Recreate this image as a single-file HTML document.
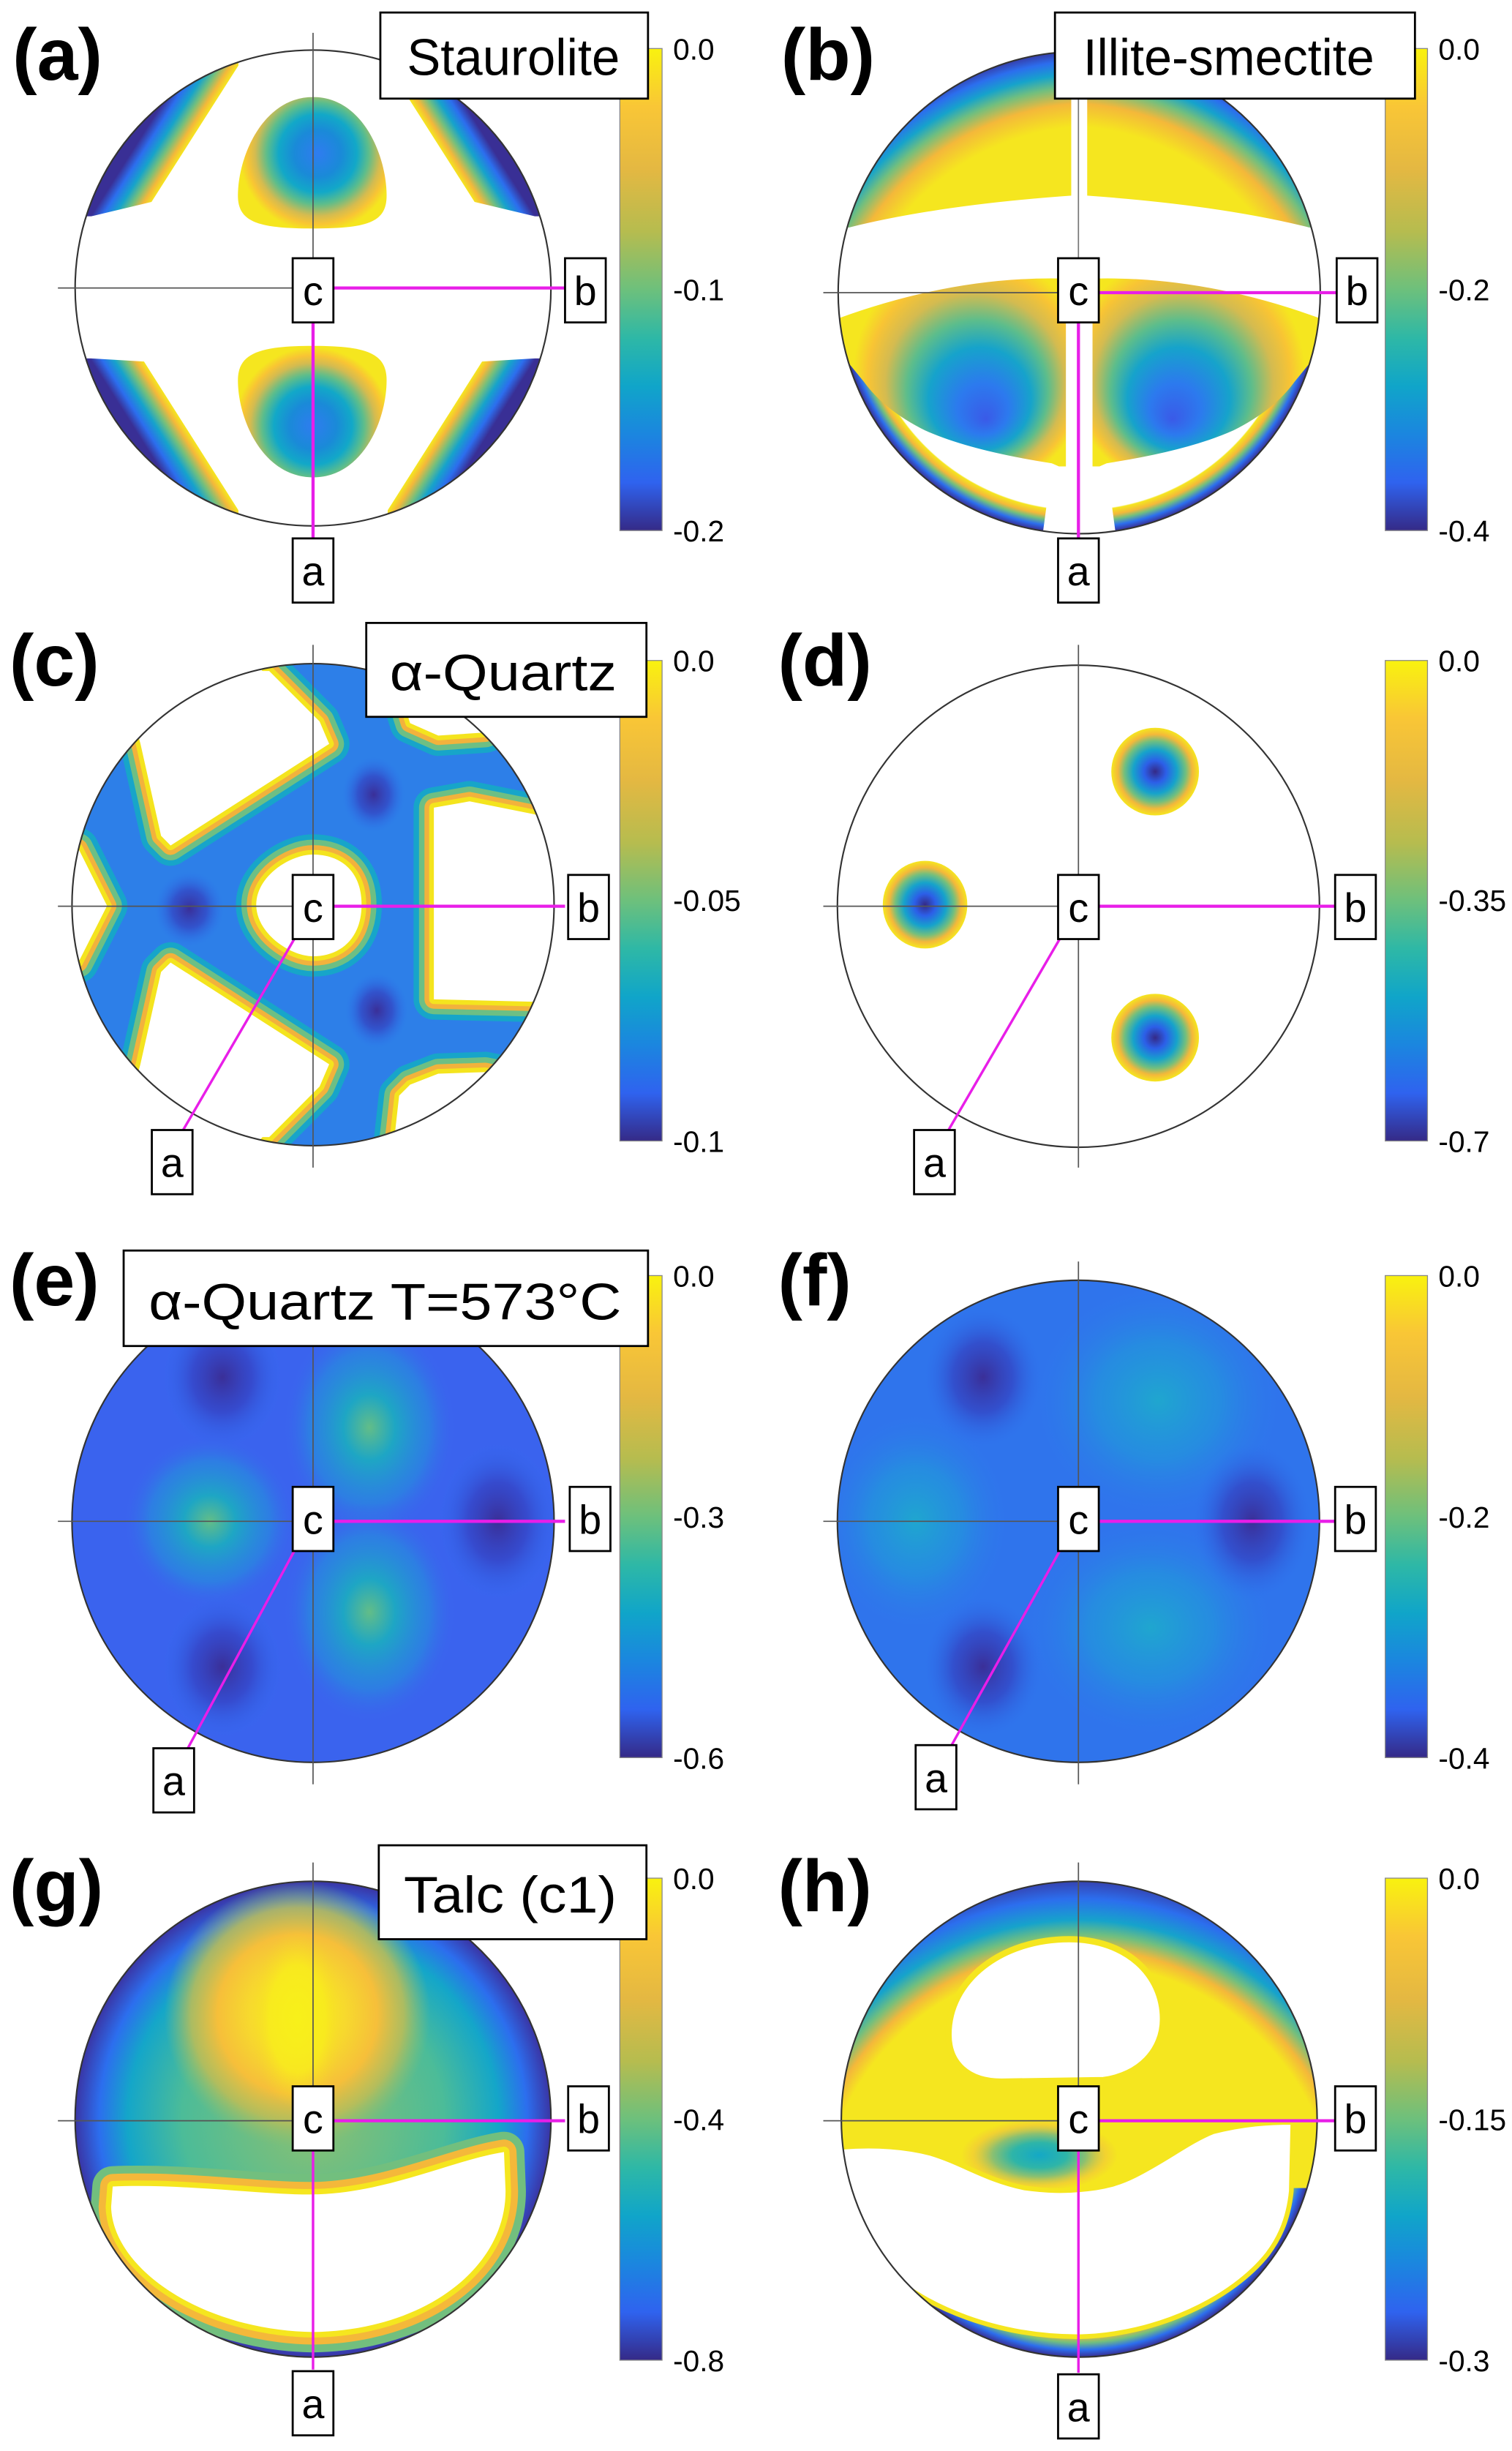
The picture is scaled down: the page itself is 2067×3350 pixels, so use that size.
<!DOCTYPE html>
<html><head><meta charset="utf-8"><style>html,body{margin:0;padding:0;background:#fff}svg{display:block}</style></head>
<body>
<svg xmlns="http://www.w3.org/2000/svg" width="2067" height="3350" viewBox="0 0 966 1566" preserveAspectRatio="none" font-family="'Liberation Sans', sans-serif">
<defs>
<linearGradient id="cb" x1="0" y1="0" x2="0" y2="1">
<stop offset="0" stop-color="#f9f20f"/><stop offset="0.12" stop-color="#f9c636"/><stop offset="0.25" stop-color="#e4b842"/><stop offset="0.38" stop-color="#b6bc4f"/><stop offset="0.5" stop-color="#6dc07c"/><stop offset="0.6" stop-color="#2eb8a6"/><stop offset="0.7" stop-color="#10a5c9"/><stop offset="0.8" stop-color="#1b86df"/><stop offset="0.9" stop-color="#2f63ef"/><stop offset="1" stop-color="#352a87"/>
</linearGradient>
<clipPath id="cA"><circle cx="200" cy="184" r="152"/></clipPath>
<clipPath id="cB"><circle cx="689.5" cy="187" r="154"/></clipPath>
<clipPath id="cC"><circle cx="200" cy="578" r="154"/></clipPath>
<clipPath id="cE"><circle cx="200" cy="972" r="154"/></clipPath>
<clipPath id="cF"><circle cx="689" cy="972" r="154"/></clipPath>
<clipPath id="cG"><circle cx="200" cy="1354" r="152"/></clipPath>
<clipPath id="cH"><circle cx="689.5" cy="1354" r="152"/></clipPath>
<path id="gw" d="M72,1397 C120,1395 170,1403 204,1402 C250,1400 290,1380 322,1375 L323,1400 C323,1450 270,1489 200,1490 C130,1489 72,1450 71,1410 Z"/>
<linearGradient id="bTL" gradientUnits="userSpaceOnUse" x1="124.5" y1="85.5" x2="100.8" y2="70.5"><stop offset="0" stop-color="#f5e61f"/><stop offset="0.15" stop-color="#f4b83a"/><stop offset="0.35" stop-color="#72bf7e"/><stop offset="0.55" stop-color="#16a3cb"/><stop offset="0.78" stop-color="#2c6eee"/><stop offset="1" stop-color="#392f95"/></linearGradient>
<linearGradient id="bTR" gradientUnits="userSpaceOnUse" x1="275.5" y1="85.5" x2="299.2" y2="70.5"><stop offset="0" stop-color="#f5e61f"/><stop offset="0.15" stop-color="#f4b83a"/><stop offset="0.35" stop-color="#72bf7e"/><stop offset="0.55" stop-color="#16a3cb"/><stop offset="0.78" stop-color="#2c6eee"/><stop offset="1" stop-color="#392f95"/></linearGradient>
<linearGradient id="bBL" gradientUnits="userSpaceOnUse" x1="122" y1="278.5" x2="98.3" y2="293.5"><stop offset="0" stop-color="#f5e61f"/><stop offset="0.15" stop-color="#f4b83a"/><stop offset="0.35" stop-color="#72bf7e"/><stop offset="0.55" stop-color="#16a3cb"/><stop offset="0.78" stop-color="#2c6eee"/><stop offset="1" stop-color="#392f95"/></linearGradient>
<linearGradient id="bBR" gradientUnits="userSpaceOnUse" x1="278" y1="278.5" x2="301.7" y2="293.5"><stop offset="0" stop-color="#f5e61f"/><stop offset="0.15" stop-color="#f4b83a"/><stop offset="0.35" stop-color="#72bf7e"/><stop offset="0.55" stop-color="#16a3cb"/><stop offset="0.78" stop-color="#2c6eee"/><stop offset="1" stop-color="#392f95"/></linearGradient>
<radialGradient id="blobT" gradientUnits="userSpaceOnUse" cx="203" cy="98" r="50"><stop offset="0" stop-color="#2f7cf0"/><stop offset="0.3" stop-color="#1a8ad8"/><stop offset="0.5" stop-color="#12a8c8"/><stop offset="0.65" stop-color="#5cbd8c"/><stop offset="0.8" stop-color="#d4bb50"/><stop offset="0.9" stop-color="#f8c434"/><stop offset="1" stop-color="#f5e61f"/></radialGradient>
<radialGradient id="blobB" gradientUnits="userSpaceOnUse" cx="200" cy="272" r="50"><stop offset="0" stop-color="#2f7cf0"/><stop offset="0.3" stop-color="#1a8ad8"/><stop offset="0.5" stop-color="#12a8c8"/><stop offset="0.65" stop-color="#5cbd8c"/><stop offset="0.8" stop-color="#d4bb50"/><stop offset="0.9" stop-color="#f8c434"/><stop offset="1" stop-color="#f5e61f"/></radialGradient>
<radialGradient id="bTopL" gradientUnits="userSpaceOnUse" cx="700" cy="240" r="210"><stop offset="0" stop-color="#f5e61f"/><stop offset="0.76" stop-color="#f5e61f"/><stop offset="0.83" stop-color="#f4b83a"/><stop offset="0.88" stop-color="#72bf7e"/><stop offset="0.92" stop-color="#16a3cb"/><stop offset="0.96" stop-color="#2c6eee"/><stop offset="1" stop-color="#392f95"/></radialGradient>
<radialGradient id="bTopR" gradientUnits="userSpaceOnUse" cx="679" cy="240" r="210"><stop offset="0" stop-color="#f5e61f"/><stop offset="0.76" stop-color="#f5e61f"/><stop offset="0.83" stop-color="#f4b83a"/><stop offset="0.88" stop-color="#72bf7e"/><stop offset="0.92" stop-color="#16a3cb"/><stop offset="0.96" stop-color="#2c6eee"/><stop offset="1" stop-color="#392f95"/></radialGradient>
<radialGradient id="bRing" gradientUnits="userSpaceOnUse" cx="689.5" cy="187" r="154"><stop offset="0" stop-color="#fff"/><stop offset="0.9" stop-color="#fff"/><stop offset="0.905" stop-color="#f5e61f"/><stop offset="0.93" stop-color="#f4b83a"/><stop offset="0.95" stop-color="#72bf7e"/><stop offset="0.975" stop-color="#2c6eee"/><stop offset="1" stop-color="#392f95"/></radialGradient>
<radialGradient id="lobeL" gradientUnits="userSpaceOnUse" cx="620" cy="235" r="82" fx="630" fy="268"><stop offset="0" stop-color="#3a5ae8"/><stop offset="0.2" stop-color="#2c7aee"/><stop offset="0.4" stop-color="#16a3cb"/><stop offset="0.55" stop-color="#5cbd8c"/><stop offset="0.7" stop-color="#d4bb50"/><stop offset="0.82" stop-color="#f8c434"/><stop offset="0.92" stop-color="#f5e61f"/></radialGradient>
<radialGradient id="lobeR" gradientUnits="userSpaceOnUse" cx="759" cy="235" r="82" fx="749" fy="268"><stop offset="0" stop-color="#3a5ae8"/><stop offset="0.2" stop-color="#2c7aee"/><stop offset="0.4" stop-color="#16a3cb"/><stop offset="0.55" stop-color="#5cbd8c"/><stop offset="0.7" stop-color="#d4bb50"/><stop offset="0.82" stop-color="#f8c434"/><stop offset="0.92" stop-color="#f5e61f"/></radialGradient>
<radialGradient id="dk"><stop offset="0" stop-color="#3a2f98"/><stop offset="0.5" stop-color="#3440c0" stop-opacity="0.7"/><stop offset="1" stop-color="#2c6eee" stop-opacity="0"/></radialGradient>
<radialGradient id="spot"><stop offset="0" stop-color="#352a87"/><stop offset="0.25" stop-color="#2c5fe8"/><stop offset="0.5" stop-color="#16a3cb"/><stop offset="0.7" stop-color="#72bf7e"/><stop offset="0.85" stop-color="#f4b83a"/><stop offset="1" stop-color="#f5e61f"/></radialGradient>
<radialGradient id="lt"><stop offset="0" stop-color="#62bd88"/><stop offset="0.3" stop-color="#1ea6c4"/><stop offset="0.7" stop-color="#2590dc" stop-opacity="0.6"/><stop offset="1" stop-color="#3a66ee" stop-opacity="0"/></radialGradient>
<radialGradient id="lt2"><stop offset="0" stop-color="#1fa6cf"/><stop offset="0.5" stop-color="#2296dc" stop-opacity="0.7"/><stop offset="1" stop-color="#2f78ec" stop-opacity="0"/></radialGradient>
<radialGradient id="gBase" gradientUnits="userSpaceOnUse" cx="200" cy="1354" r="152"><stop offset="0" stop-color="#8cc070"/><stop offset="0.55" stop-color="#4cbc98"/><stop offset="0.78" stop-color="#14a6c9"/><stop offset="0.9" stop-color="#2c6eee"/><stop offset="1" stop-color="#3a35a5"/></radialGradient>
<radialGradient id="gYel" gradientUnits="userSpaceOnUse" cx="190" cy="1287" r="85"><stop offset="0" stop-color="#f8f01a"/><stop offset="0.3" stop-color="#f7e02a"/><stop offset="0.6" stop-color="#f6bf3a"/><stop offset="0.8" stop-color="#c0bd55" stop-opacity="0.85"/><stop offset="1" stop-color="#8cc070" stop-opacity="0"/></radialGradient>
<radialGradient id="gCore" gradientUnits="userSpaceOnUse" cx="190" cy="1290" r="30" gradientTransform="translate(190 1290) scale(1 1.9) translate(-190 -1290)"><stop offset="0" stop-color="#f8f01a"/><stop offset="0.6" stop-color="#f8ec1c" stop-opacity="0.8"/><stop offset="1" stop-color="#f7d02a" stop-opacity="0"/></radialGradient>
<radialGradient id="hTop" gradientUnits="userSpaceOnUse" cx="689" cy="1420" r="230"><stop offset="0" stop-color="#f5e61f"/><stop offset="0.72" stop-color="#f5e61f"/><stop offset="0.76" stop-color="#f4b83a"/><stop offset="0.8" stop-color="#72bf7e"/><stop offset="0.84" stop-color="#16a3cb"/><stop offset="0.9" stop-color="#2c6eee"/><stop offset="0.97" stop-color="#392f95"/></radialGradient>
<radialGradient id="hRing" gradientUnits="userSpaceOnUse" cx="689.5" cy="1354" r="152"><stop offset="0" stop-color="#f5e61f"/><stop offset="0.88" stop-color="#f5e61f"/><stop offset="0.91" stop-color="#f4b83a"/><stop offset="0.94" stop-color="#72bf7e"/><stop offset="0.97" stop-color="#2c6eee"/><stop offset="1" stop-color="#392f95"/></radialGradient>
<radialGradient id="hBlob"><stop offset="0" stop-color="#14a8c6"/><stop offset="0.35" stop-color="#2eb5a8"/><stop offset="0.6" stop-color="#8cc070"/><stop offset="0.85" stop-color="#f0c040" stop-opacity="0.5"/><stop offset="1" stop-color="#f0c040" stop-opacity="0"/></radialGradient>
</defs>

<!-- (a) -->
<g clip-path="url(#cA)">
<path d="M58.3,138.2 L96.8,129 L152.3,41.9 L152.3,20 L30,20 L30,138.2 Z" fill="url(#bTL)"/>
<path d="M341.7,138.2 L303.2,129 L247.7,41.9 L247.7,20 L370,20 L370,138.2 Z" fill="url(#bTR)"/>
<path d="M58.3,229 L92,231 L152.3,326 L152.3,350 L30,350 L30,229 Z" fill="url(#bBL)"/>
<path d="M341.7,229 L308,231 L247.7,326 L247.7,350 L370,350 L370,229 Z" fill="url(#bBR)"/>
<path d="M200,62 C232,62 247,100 247,125 C247,142 235,146 200,146 C165,146 152,142 152,125 C152,100 168,62 200,62 Z" fill="url(#blobT)"/>
<path d="M200,305 C232,305 247,268 247,243 C247,226 235,221 200,221 C165,221 152,226 152,243 C152,268 168,305 200,305 Z" fill="url(#blobB)"/>
</g>
<circle cx="200" cy="184" r="152" fill="none" stroke="#333" stroke-width="1"/>
<line x1="37" y1="184" x2="200" y2="184" stroke="#555" stroke-width="0.8"/>
<line x1="200" y1="21" x2="200" y2="184" stroke="#555" stroke-width="0.8"/>
<line x1="200" y1="184" x2="361" y2="184" stroke="#e81ee8" stroke-width="2"/>
<line x1="200" y1="184" x2="200" y2="344" stroke="#e81ee8" stroke-width="2"/>

<!-- (b) -->
<g clip-path="url(#cB)">
<path d="M684.4,125 L684.4,20 L520,20 L520,146 L542.6,145.3 Q600,131 684.4,125 Z" fill="url(#bTopL)"/>
<path d="M694.6,125 L694.6,20 L860,20 L860,146 L836.4,145.3 Q779,131 694.6,125 Z" fill="url(#bTopR)"/>
<path d="M520,204 L545.6,204 Q610,176 676,177.7 L703,177.7 Q768,176 833,204 L860,204 L860,350 L520,350 Z" fill="url(#bRing)"/>
<path d="M534,204 Q610,176 681,178 L681,300 L672,296 Q620,288 591,275 Q565,262 552,244 L534,222 Z" fill="url(#lobeL)"/>
<path d="M845,204 Q769,176 698,178 L698,300 L707,296 Q759,288 788,275 Q814,262 827,244 L845,222 Z" fill="url(#lobeR)"/>
<path d="M672,298 L707,298 L714,350 L665,350 Z" fill="#fff"/>
</g>
<circle cx="689.5" cy="187" r="154" fill="none" stroke="#333" stroke-width="1"/>
<line x1="526" y1="187" x2="689" y2="187" stroke="#555" stroke-width="0.8"/>
<line x1="689" y1="21" x2="689" y2="187" stroke="#777" stroke-width="0.8"/>
<line x1="689" y1="187" x2="854" y2="187" stroke="#e81ee8" stroke-width="2"/>
<line x1="689" y1="187" x2="689" y2="344" stroke="#e81ee8" stroke-width="2"/>

<!-- (c) -->
<g clip-path="url(#cC)">
<rect x="40" y="420" width="320" height="320" fill="#2d7fe8"/>
<ellipse cx="238.7" cy="507.7" rx="20" ry="24" fill="url(#dk)"/>
<ellipse cx="121" cy="580.7" rx="22" ry="24" fill="url(#dk)"/>
<ellipse cx="240.7" cy="645.6" rx="20" ry="24" fill="url(#dk)"/>
<g stroke-linejoin="round">
<g id="wc">
<path d="M80,440 L150,410 L167.7,428.7 L172,428.7 L204.2,461 L210.3,475.3 L109,540.2 L102.9,534 L89.7,475 Z"/>
<path d="M80,716 L150,746 L167.7,726.5 L172,726.5 L204.2,694.2 L210.3,680 L109,615 L102.9,621 L89.7,680 Z"/>
<path d="M277.2,516 L300,512 L340,520 L385,530 L385,640 L340,640 L277.2,638.5 Z"/>
<path d="M163.7,578 C163.7,560 185,546 200,546 C217,546 231,556 231,578 C231,600 217,611 200,611 C185,611 163.7,596 163.7,578 Z"/>
<path d="M255,440 L262,462 L280,470 L310,468 L332,460 L320,425 Z"/>
<path d="M255,700 L262,693 L280,686 L310,685 L335,690 L320,735 L250,745 Z"/>
<path d="M30,530 L50,542 L68.4,578.7 L50,615 L30,625 Z"/>
</g>
<use href="#wc" fill="none" stroke="#17a5c9" stroke-width="26"/>
<use href="#wc" fill="none" stroke="#6dbf84" stroke-width="19"/>
<use href="#wc" fill="none" stroke="#f2b23c" stroke-width="12"/>
<use href="#wc" fill="none" stroke="#f4e41e" stroke-width="6"/>
<use href="#wc" fill="#fff" stroke="none"/>
</g>
</g>
<circle cx="200" cy="578" r="154" fill="none" stroke="#333" stroke-width="1"/>
<line x1="37" y1="579" x2="200" y2="579" stroke="#555" stroke-width="0.8"/>
<line x1="200" y1="412" x2="200" y2="746" stroke="#555" stroke-width="0.8"/>
<line x1="200" y1="579" x2="361" y2="579" stroke="#e81ee8" stroke-width="2"/>
<line x1="188" y1="600" x2="117" y2="722" stroke="#e81ee8" stroke-width="1.6"/>

<!-- (d) -->
<ellipse cx="738" cy="493" rx="28" ry="28" fill="url(#spot)"/>
<ellipse cx="591" cy="578" rx="27" ry="28" fill="url(#spot)"/>
<ellipse cx="738" cy="663" rx="28" ry="28" fill="url(#spot)"/>
<circle cx="689" cy="579" r="154" fill="none" stroke="#333" stroke-width="1"/>
<line x1="526" y1="579" x2="689" y2="579" stroke="#555" stroke-width="0.8"/>
<line x1="689" y1="412" x2="689" y2="746" stroke="#555" stroke-width="0.8"/>
<line x1="689" y1="579" x2="854" y2="579" stroke="#e81ee8" stroke-width="2"/>
<line x1="677" y1="600" x2="606" y2="722" stroke="#e81ee8" stroke-width="1.6"/>

<!-- (e) -->
<g clip-path="url(#cE)">
<rect x="40" y="810" width="320" height="330" fill="#3a63ee"/>
<ellipse cx="236" cy="912" rx="55" ry="70" fill="url(#lt)"/>
<ellipse cx="134" cy="972" rx="55" ry="55" fill="url(#lt)"/>
<ellipse cx="236" cy="1030" rx="55" ry="70" fill="url(#lt)"/>
<ellipse cx="142" cy="880" rx="38" ry="45" fill="url(#dk)"/>
<ellipse cx="318" cy="972" rx="38" ry="50" fill="url(#dk)"/>
<ellipse cx="142" cy="1065" rx="38" ry="45" fill="url(#dk)"/>
</g>
<circle cx="200" cy="972" r="154" fill="none" stroke="#333" stroke-width="1"/>
<line x1="37" y1="972" x2="200" y2="972" stroke="#555" stroke-width="0.8"/>
<line x1="200" y1="806" x2="200" y2="1140" stroke="#555" stroke-width="0.8"/>
<line x1="200" y1="972" x2="361" y2="972" stroke="#e81ee8" stroke-width="2"/>
<line x1="188" y1="991" x2="120" y2="1117" stroke="#e81ee8" stroke-width="1.6"/>

<!-- (f) -->
<g clip-path="url(#cF)">
<rect x="530" y="810" width="320" height="330" fill="#2f74ec"/>
<ellipse cx="740" cy="895" rx="80" ry="75" fill="url(#lt2)"/>
<ellipse cx="585" cy="972" rx="60" ry="70" fill="url(#lt2)"/>
<ellipse cx="735" cy="1040" rx="80" ry="70" fill="url(#lt2)"/>
<ellipse cx="628" cy="880" rx="38" ry="45" fill="url(#dk)"/>
<ellipse cx="800" cy="972" rx="38" ry="50" fill="url(#dk)"/>
<ellipse cx="628" cy="1065" rx="38" ry="45" fill="url(#dk)"/>
</g>
<circle cx="689" cy="972" r="154" fill="none" stroke="#333" stroke-width="1"/>
<line x1="526" y1="972" x2="689" y2="972" stroke="#555" stroke-width="0.8"/>
<line x1="689" y1="806" x2="689" y2="1140" stroke="#555" stroke-width="0.8"/>
<line x1="689" y1="972" x2="854" y2="972" stroke="#e81ee8" stroke-width="2"/>
<line x1="677" y1="991" x2="608" y2="1115" stroke="#e81ee8" stroke-width="1.6"/>

<!-- (g) -->
<g clip-path="url(#cG)">
<rect x="40" y="1195" width="320" height="320" fill="url(#gBase)"/>
<ellipse cx="190" cy="1287" rx="100" ry="105" fill="url(#gYel)"/>
<ellipse cx="190" cy="1290" rx="30" ry="57" fill="url(#gCore)"/>
<g stroke-linejoin="round">
<use href="#gw" fill="none" stroke="#72bf7e" stroke-width="26"/>
<use href="#gw" fill="none" stroke="#f4b83a" stroke-width="16"/>
<use href="#gw" fill="none" stroke="#f5e61f" stroke-width="7"/>
<use href="#gw" fill="#fff" stroke="none"/>
</g>
</g>
<circle cx="200" cy="1354" r="152" fill="none" stroke="#333" stroke-width="1"/>
<line x1="37" y1="1355" x2="200" y2="1355" stroke="#555" stroke-width="0.8"/>
<line x1="200" y1="1190" x2="200" y2="1355" stroke="#555" stroke-width="0.8"/>
<line x1="200" y1="1355" x2="361" y2="1355" stroke="#e81ee8" stroke-width="2"/>
<line x1="200" y1="1355" x2="200" y2="1514" stroke="#e81ee8" stroke-width="1.6"/>

<!-- (h) -->
<g clip-path="url(#cH)">
<rect x="530" y="1195" width="320" height="320" fill="url(#hTop)"/>
<rect x="530" y="1398" width="320" height="120" fill="url(#hRing)"/>
<ellipse cx="664" cy="1377" rx="50" ry="23" fill="url(#hBlob)"/>
<path d="M683,1239 C720,1239 743,1262 743,1290 C743,1310 728,1326 705,1329 L640,1330 C618,1330 606,1318 606,1300 C606,1265 640,1239 683,1239 Z" fill="#fff" stroke="#f5e61f" stroke-width="4"/>
<path d="M537,1372 C560,1370 580,1372 595,1376 C615,1382 630,1393 655,1398 C670,1400 680,1400 690,1399 C705,1398 715,1395 725,1390 C745,1380 760,1368 775,1362 C795,1357 810,1356 826,1356 L825,1400 C823,1420 816,1432 810,1440 C788,1468 740,1492 689,1493 C640,1493 590,1476 560,1445 C548,1430 540,1410 537,1390 Z" fill="#fff" stroke="#f5e61f" stroke-width="3"/>
</g>
<circle cx="689.5" cy="1354" r="152" fill="none" stroke="#333" stroke-width="1"/>
<line x1="526" y1="1355" x2="689" y2="1355" stroke="#555" stroke-width="0.8"/>
<line x1="689" y1="1190" x2="689" y2="1355" stroke="#555" stroke-width="0.8"/>
<line x1="689" y1="1355" x2="854" y2="1355" stroke="#e81ee8" stroke-width="2"/>
<line x1="689" y1="1355" x2="689" y2="1516" stroke="#e81ee8" stroke-width="1.6"/>

<!-- colorbars -->
<g stroke="#888" stroke-width="0.6">
<rect x="396" y="31" width="27" height="308" fill="url(#cb)"/>
<rect x="885" y="31" width="27" height="308" fill="url(#cb)"/>
<rect x="396" y="422" width="27" height="307" fill="url(#cb)"/>
<rect x="885" y="422" width="27" height="307" fill="url(#cb)"/>
<rect x="396" y="815" width="27" height="308" fill="url(#cb)"/>
<rect x="885" y="815" width="27" height="308" fill="url(#cb)"/>
<rect x="396" y="1200" width="27" height="308" fill="url(#cb)"/>
<rect x="885" y="1200" width="27" height="308" fill="url(#cb)"/>
</g>
<g font-size="19" fill="#000">
<text x="430" y="38">0.0</text><text x="430" y="192">-0.1</text><text x="430" y="346">-0.2</text>
<text x="919" y="38">0.0</text><text x="919" y="192">-0.2</text><text x="919" y="346">-0.4</text>
<text x="430" y="429">0.0</text><text x="430" y="582">-0.05</text><text x="430" y="736">-0.1</text>
<text x="919" y="429">0.0</text><text x="919" y="582">-0.35</text><text x="919" y="736">-0.7</text>
<text x="430" y="822">0.0</text><text x="430" y="976">-0.3</text><text x="430" y="1130">-0.6</text>
<text x="919" y="822">0.0</text><text x="919" y="976">-0.2</text><text x="919" y="1130">-0.4</text>
<text x="430" y="1207">0.0</text><text x="430" y="1361">-0.4</text><text x="430" y="1515">-0.8</text>
<text x="919" y="1207">0.0</text><text x="919" y="1361">-0.15</text><text x="919" y="1515">-0.3</text>
</g>

<!-- title boxes -->
<g fill="#fff" stroke="#000" stroke-width="1.3">
<rect x="243" y="8" width="171" height="55"/>
<rect x="674" y="8" width="230" height="55"/>
<rect x="234" y="398" width="179" height="60"/>
<rect x="79" y="799" width="335" height="61"/>
<rect x="242" y="1179" width="171" height="60"/>
</g>
<g font-size="33" fill="#000">
<text x="260" y="48" textLength="136" lengthAdjust="spacingAndGlyphs">Staurolite</text>
<text x="692" y="48" textLength="186" lengthAdjust="spacingAndGlyphs">Illite-smectite</text>
<text x="249" y="441" textLength="145" lengthAdjust="spacingAndGlyphs">α-Quartz</text>
<text x="95" y="843" textLength="302" lengthAdjust="spacingAndGlyphs">α-Quartz T=573°C</text>
<text x="258" y="1222" textLength="136" lengthAdjust="spacingAndGlyphs">Talc (c1)</text>
</g>

<!-- axis label boxes -->
<g fill="#fff" stroke="#000" stroke-width="1.3">
<rect x="187" y="165" width="26" height="41"/><rect x="361" y="165" width="26" height="41"/><rect x="187" y="344" width="26" height="41"/>
<rect x="676" y="165" width="26" height="41"/><rect x="854" y="165" width="26" height="41"/><rect x="676" y="344" width="26" height="41"/>
<rect x="187" y="559" width="26" height="41"/><rect x="363" y="559" width="26" height="41"/><rect x="97" y="722" width="26" height="41"/>
<rect x="676" y="559" width="26" height="41"/><rect x="853" y="559" width="26" height="41"/><rect x="584" y="722" width="26" height="41"/>
<rect x="187" y="950" width="26" height="41"/><rect x="364" y="950" width="26" height="41"/><rect x="98" y="1117" width="26" height="41"/>
<rect x="676" y="950" width="26" height="41"/><rect x="853" y="950" width="26" height="41"/><rect x="585" y="1115" width="26" height="41"/>
<rect x="187" y="1333" width="26" height="41"/><rect x="363" y="1333" width="26" height="41"/><rect x="187" y="1515" width="26" height="41"/>
<rect x="676" y="1333" width="26" height="41"/><rect x="853" y="1333" width="26" height="41"/><rect x="676" y="1517" width="26" height="41"/>
</g>
<g font-size="26" fill="#000" text-anchor="middle">
<text x="200" y="195">c</text><text x="374" y="195">b</text><text x="200" y="374">a</text>
<text x="689" y="195">c</text><text x="867" y="195">b</text><text x="689" y="374">a</text>
<text x="200" y="589">c</text><text x="376" y="589">b</text><text x="110" y="752">a</text>
<text x="689" y="589">c</text><text x="866" y="589">b</text><text x="597" y="752">a</text>
<text x="200" y="980">c</text><text x="377" y="980">b</text><text x="111" y="1147">a</text>
<text x="689" y="980">c</text><text x="866" y="980">b</text><text x="598" y="1145">a</text>
<text x="200" y="1363">c</text><text x="376" y="1363">b</text><text x="200" y="1545">a</text>
<text x="689" y="1363">c</text><text x="866" y="1363">b</text><text x="689" y="1547">a</text>
</g>

<!-- panel letters -->
<g font-size="47" font-weight="bold" fill="#000">
<text x="8" y="51">(a)</text>
<text x="499" y="51">(b)</text>
<text x="6" y="438">(c)</text>
<text x="497" y="438">(d)</text>
<text x="6" y="834">(e)</text>
<text x="497" y="834">(f)</text>
<text x="6" y="1221">(g)</text>
<text x="497" y="1221">(h)</text>
</g>
</svg>
</body></html>
